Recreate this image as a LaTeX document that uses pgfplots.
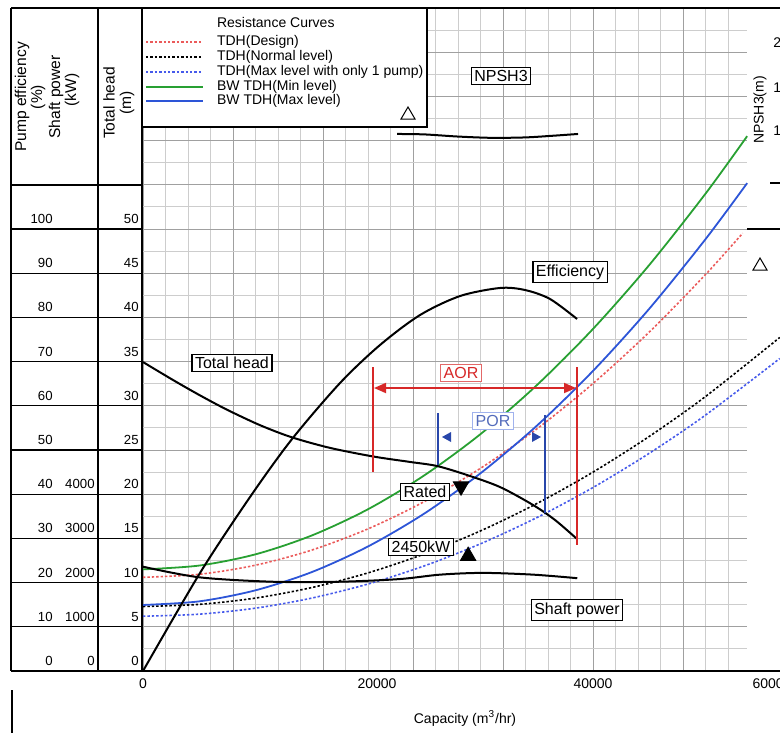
\documentclass[border=0pt]{standalone}
\usepackage{pgfplots}
\pgfplotsset{compat=1.18}
\usepackage{fontspec}
\setmainfont{Liberation Sans}
\usetikzlibrary{arrows.meta}
\definecolor{cgreen}{RGB}{40,160,50}
\definecolor{cblue}{RGB}{45,85,215}
\definecolor{cred}{RGB}{235,90,90}
\definecolor{cbdot}{RGB}{70,90,235}
\definecolor{caor}{RGB}{215,40,40}
\definecolor{cpor}{RGB}{40,70,170}
\definecolor{cgrid}{RGB}{205,205,205}
\definecolor{cgridm}{RGB}{160,160,160}
\newcommand{\lab}{\fontsize{8}{9}\selectfont}
\newcommand{\sml}{\fontsize{6.6}{7.5}\selectfont}
\begin{document}
\begin{tikzpicture}[font=\fontsize{7}{8}\selectfont]
\useasboundingbox (0pt,0pt) rectangle (390pt,-366.5pt);
\clip (0pt,0pt) rectangle (390pt,-366.5pt);
% main axis: capacity (m3/hr) vs total head (m)
\begin{axis}[at={(71.5pt,-335.5pt)},anchor=south west,scale only axis,
  width=302pt,height=331.5pt,xmin=0,xmax=53690,ymin=0,ymax=75,clip=false,
  axis line style={draw=none},tick style={draw=none},scaled ticks=false,
  xtick={0,8000,...,48000},minor xtick={2000,4000,...,52000},
  ytick={0,5,...,75},minor ytick={2.5,7.5,...,72.5},
  xticklabels={},yticklabels={},grid=both,
  major grid style={cgridm,line width=0.5pt},
  minor grid style={cgrid,line width=0.5pt},
  extra x ticks={48000},extra x tick labels={},
  extra x tick style={grid style={black!80,line width=0.8pt}}]
% resistance curves
\addplot[cred,line width=0.8pt,dash pattern=on 1.2pt off 1pt,smooth] coordinates {
 (0,10.6) (5000,10.94) (10000,11.97) (15000,13.68) (20000,16.08) (25000,19.16)
 (30000,22.93) (35000,27.38) (40000,32.52) (45000,38.34) (50000,44.85) (53300,49.52)};
\addplot[black,line width=0.8pt,dash pattern=on 1.2pt off 1pt,smooth] coordinates {
 (0,7.3) (5000,7.54) (10000,8.25) (15000,9.44) (20000,11.1) (25000,13.24)
 (30000,15.85) (35000,18.94) (40000,22.5) (45000,26.54) (50000,31.05) (56600,37.73)};
\addplot[cbdot,line width=0.8pt,dash pattern=on 1.2pt off 1pt,smooth] coordinates {
 (0,6.2) (5000,6.43) (10000,7.11) (15000,8.25) (20000,9.84) (25000,11.89)
 (30000,14.39) (35000,17.35) (40000,20.76) (45000,24.63) (50000,28.95) (56600,35.35)};
\addplot[cgreen,line width=0.9pt,smooth] coordinates {
 (0,11.5) (5000,11.93) (10000,13.2) (15000,15.33) (20000,18.3) (25000,22.13)
 (30000,26.8) (35000,32.33) (40000,38.7) (45000,45.93) (50000,54.0) (53700,60.5)};
\addplot[cblue,line width=0.9pt,smooth] coordinates {
 (0,7.47) (5000,7.88) (10000,9.13) (15000,11.19) (20000,14.09) (25000,17.81)
 (30000,22.37) (35000,27.74) (40000,33.95) (45000,40.98) (50000,48.85) (53700,55.19)};
% pump curves: total head, efficiency (on head scale, % / 2), shaft power (kW / 200)
\addplot[black,line width=1pt,smooth,tension=0.5] coordinates {
 (0,34.95) (2667,32.92) (5067,31.18) (7467,29.56) (10401,27.81) (13246,26.43)
 (16624,25.24) (20447,24.27) (23736,23.65) (26137,23.19) (28804,22.17)
 (31737,20.81) (34671,18.78) (36627,17.08) (38583,14.93)};
\addplot[black,line width=1pt,smooth,tension=0.5] coordinates {
 (0,0) (5067,11.09) (9512,19.68) (13246,26.24) (17513,32.58) (21069,36.88)
 (24625,40.27) (28181,42.42) (31737,43.33) (33960,43.1) (36183,42.08) (38583,39.82)};
\addplot[black,line width=1pt,smooth,tension=0.5] coordinates {
 (0,11.8) (5000,10.6) (11500,10.1) (17500,10.1) (22800,10.4) (26400,10.9)
 (30200,11.1) (34700,10.9) (38600,10.5)};
% rated and 2450kW markers
\addplot[only marks,mark=triangle*,mark size=4.5pt,mark options={black,rotate=180}] coordinates {(28270,20.9)};
\addplot[only marks,mark=triangle*,mark size=4.5pt,mark options={black}] coordinates {(28900,13.0)};
\end{axis}
% NPSH3 on its own scale
\begin{axis}[at={(71.5pt,-335.5pt)},anchor=south west,scale only axis,
  width=302pt,height=331.5pt,xmin=0,xmax=53690,ymin=-52.8,ymax=24.3,
  hide axis,clip=false]
\addplot[black,line width=1pt,smooth] coordinates {
 (22580,9.65) (25000,9.6) (28000,9.35) (31000,9.2) (34000,9.25) (36500,9.45) (38670,9.65)};
\end{axis}
\begin{scope}[x=0.5pt,y=-0.5pt]
% frame and left table
\draw[line width=0.8pt] (11,8) -- (780,8);
\draw[line width=0.8pt] (11,671) -- (780,671);
\draw[line width=0.7pt] (11,8) -- (11,671) (98,8) -- (98,671) (142,8) -- (142,671);
\draw[line width=0.7pt] (12,690) -- (12,733);
\draw[line width=0.7pt] (11,185) -- (142,185);
\foreach \h in {0,5,...,50} {
  \pgfmathsetmacro\yy{671-8.84*\h}
  \draw[line width=0.6pt] (11,\yy) -- (142,\yy);
  \pgfmathtruncatemacro\ef{2*\h}
  \node[anchor=east,inner sep=0pt,font=\sml] at (53,\yy-10) {\ef};
  \node[anchor=east,inner sep=0pt,font=\sml] at (139,\yy-10) {\h};
}
\foreach \h in {0,5,...,20} {
  \pgfmathsetmacro\yy{671-8.84*\h}
  \pgfmathtruncatemacro\pw{200*\h}
  \node[anchor=east,inner sep=0pt,font=\sml] at (95,\yy-10) {\pw};
}
\begin{scope}[font=\fontsize{7.8}{9}\selectfont]
\node[rotate=90] at (22,97) {Pump efficiency};
\node[rotate=90] at (38,97) {(\%)};
\node[rotate=90] at (56,97) {Shaft power};
\node[rotate=90] at (72,90) {(kW)};
\node[rotate=90] at (109,103) {Total head};
\node[rotate=90] at (127,103) {(m)};
\end{scope}
% x tick labels and axis title
\node at (143,684) {0};
\node at (377,684) {20000};
\node at (593,684) {40000};
\node at (772,684) {60000};
\node at (465,718) {Capacity (m\textsuperscript{3}/hr)};
% NPSH3 scale at right
\node[rotate=90] at (760,110) {NPSH3(m)};
\node[anchor=west,inner sep=0pt] at (773,43) {20};
\node[anchor=west,inner sep=0pt] at (773,88) {15};
\node[anchor=west,inner sep=0pt] at (773,131) {10};
\draw[line width=0.6pt] (770,183) -- (780,183);
\draw[line width=0.7pt] (747,229) -- (780,229);
\draw[line width=0.5pt] (753,270) -- (760,258) -- (767,270) -- cycle;
% legend
\draw[fill=white,line width=0.8pt] (142,8) rectangle (427,127);
\node[anchor=west] at (210,22) {Resistance Curves};
\draw[cred,line width=0.8pt,dash pattern=on 1.2pt off 1pt] (146,42) -- (203,42);
\node[anchor=west] at (210,42) {TDH(Design)};
\draw[black,line width=0.8pt,dash pattern=on 1.2pt off 1pt] (146,57) -- (203,57);
\node[anchor=west] at (210,57) {TDH(Normal level)};
\draw[cbdot,line width=0.8pt,dash pattern=on 1.2pt off 1pt] (146,72) -- (203,72);
\node[anchor=west] at (210,72) {TDH(Max level with only 1 pump)};
\draw[cgreen,line width=0.9pt] (146,87) -- (203,87);
\node[anchor=west] at (210,87) {BW TDH(Min level)};
\draw[cblue,line width=0.9pt] (146,101) -- (203,101);
\node[anchor=west] at (210,101) {BW TDH(Max level)};
\draw[line width=0.5pt] (401,119) -- (408,107) -- (415,119) -- cycle;
% AOR / POR
\draw[caor,line width=0.6pt] (373,367) -- (373,472) (577,367) -- (577,545);
\draw[caor,line width=0.9pt,{Triangle[length=6pt,width=5pt]}-{Triangle[length=6pt,width=5pt]}] (374,388) -- (576,388);
\node[draw=caor!70,fill=white,text=caor,font=\lab,inner sep=1.5pt] at (461,373) {AOR};
\draw[cpor,line width=0.6pt] (438,413) -- (438,465) (545,415) -- (545,513);
\fill[cpor] (442,437) -- (451,432) -- (451,442) -- cycle;
\fill[cpor] (541,437) -- (532,432) -- (532,442) -- cycle;
\node[draw=cblue!45,fill=white,text=cpor!80,font=\lab,inner sep=1.5pt] at (493,421) {POR};
% labels
\begin{scope}[every node/.style={draw,fill=white,font=\lab,inner sep=1.5pt,line width=0.6pt}]
\node at (232,363) {Total head};
\node at (570,272) {Efficiency};
\node at (501,76) {NPSH3};
\node at (577,610) {Shaft power};
\node at (425,492) {Rated};
\node at (421,547) {2450kW};
\end{scope}
\end{scope}
\end{tikzpicture}
\end{document}
